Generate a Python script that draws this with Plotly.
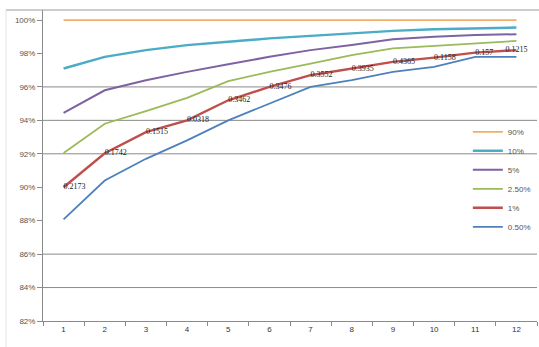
import plotly.graph_objects as go

periods = [str(i) for i in range(1, 13)]

s90 = [100.0] * 12
s10 = [97.1, 97.8, 98.2, 98.5, 98.7, 98.9, 99.05, 99.2, 99.35, 99.45, 99.5, 99.55]
s5 = [94.45, 95.8, 96.4, 96.9, 97.35, 97.8, 98.2, 98.5, 98.85, 99.0, 99.1, 99.15]
s2_5 = [92.05, 93.8, 94.55, 95.35, 96.35, 96.9, 97.4, 97.9, 98.3, 98.45, 98.6, 98.75]
s1 = [90.0, 92.03, 93.3, 94.0, 95.2, 96.0, 96.7, 97.1, 97.5, 97.75, 98.05, 98.2]
s0_5 = [88.08, 90.4, 91.7, 92.8, 94.0, 95.0, 96.0, 96.4, 96.9, 97.2, 97.8, 97.8]

s1_labels = ["0.2173", "0.1742", "0.1515", "0.0318", "0.3462", "0.3476",
             "0.3552", "0.3935", "0.4365", "0.1158", "0.157", "0.1215"]

y_ticks = [82, 84, 86, 88, 90, 92, 94, 96, 98, 100]
grid_values = [84, 86, 92, 94, 96]

series = [
    ("90%", s90, "#F2AE68", 1.8),
    ("10%", s10, "#4AACC5", 2.4),
    ("5%", s5, "#7F62A1", 2.0),
    ("2.50%", s2_5, "#9ABB58", 1.8),
    ("1%", s1, "#BF4F4C", 2.4),
    ("0.50%", s0_5, "#4E80BC", 1.8),
]

label_pos = ["middle right"] * (len(s1_labels) - 1) + ["middle center"]

fig = go.Figure()
for name, vals, color, w in series:
    if name == "1%":
        kw = dict(mode="lines+text", text=s1_labels, textposition=label_pos,
                  textfont=dict(size=8, color="#222", family="Liberation Serif"),
                  cliponaxis=False)
    else:
        kw = dict(mode="lines")
    fig.add_trace(go.Scatter(x=periods, y=vals, name=name,
                             line=dict(color=color, width=w), **kw))

for g in grid_values:
    fig.add_shape(type="line", xref="paper", x0=0, x1=1, yref="y", y0=g, y1=g,
                  line=dict(color="#8a8a8a", width=1), layer="below")

# outer chart frame (top and left)
fig.add_shape(type="line", xref="paper", yref="paper", x0=-0.075, x1=1.01, y0=1, y1=1,
              line=dict(color="#9a9a9a", width=1))
fig.add_shape(type="line", xref="paper", yref="paper", x0=-0.075, x1=-0.075, y0=-0.1, y1=1,
              line=dict(color="#e6e6e6", width=1))

fig.update_layout(
    width=539, height=347,
    margin=dict(l=43, r=2, t=10, b=26, autoexpand=False),
    paper_bgcolor="white", plot_bgcolor="white",
    font=dict(family="Liberation Sans", size=8, color="#444"),
    showlegend=True,
    legend=dict(x=0.86, y=0.655, xanchor="left", yanchor="top",
                bgcolor="rgba(0,0,0,0)", font=dict(size=8, color="#555"),
                itemwidth=30, tracegroupgap=0),
)
fig.update_xaxes(type="category", range=[-0.5, 11.5], tickson="boundaries",
                 ticks="outside", ticklen=4,
                 tickcolor="#8a8a8a", showline=True, linecolor="#8a8a8a",
                 showgrid=False, automargin=False, tickfont=dict(size=8, color="#333"))
fig.update_yaxes(range=[82, 100.6], tickvals=y_ticks,
                 ticktext=[f"{v}%" for v in y_ticks], ticks="outside", ticklen=5,
                 tickcolor="#8a8a8a", showline=True, linecolor="#8a8a8a",
                 showgrid=False, zeroline=False, automargin=False,
                 tickfont=dict(size=8, color="#555"))

fig.write_html("out.html", config={"displayModeBar": False},
               post_script="document.body.style.margin='0';document.body.style.overflow='hidden';")
